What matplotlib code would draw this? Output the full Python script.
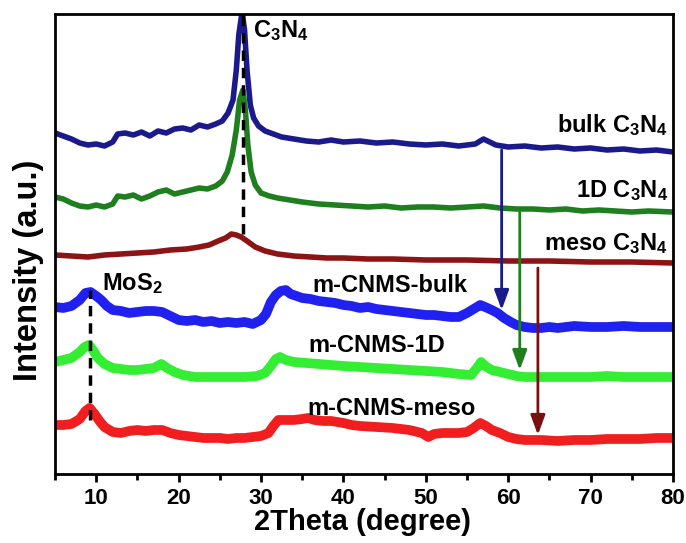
import numpy as np
import matplotlib
matplotlib.use("Agg")
import matplotlib.pyplot as plt

plt.rcParams['font.family'] = ['Liberation Sans', 'DejaVu Sans']
plt.rcParams['font.weight'] = 'bold'
plt.rcParams['mathtext.fontset'] = 'custom'
plt.rcParams['mathtext.rm'] = 'Liberation Sans:bold'
plt.rcParams['mathtext.it'] = 'Liberation Sans:bold'
plt.rcParams['mathtext.bf'] = 'Liberation Sans:bold'
plt.rcParams['mathtext.default'] = 'rm'

# --- data (2theta in degree, intensity in a.u.) ---
x_bulk = [5, 6, 7, 8, 9, 10, 11, 12, 12.6, 13.5, 14.5, 15.5, 16.5, 17.5, 18.5, 19.5, 20.5, 21.5,
          22.5, 23.5, 24.5, 25.3, 26, 26.6, 27.0, 27.3, 27.7, 28.0, 28.3, 28.7, 29.1, 29.7, 30.5,
          31.5, 32.5, 34, 35.5, 37, 38.5, 40, 42, 44, 46, 48, 50, 52, 54, 56, 57, 57.5, 58.5, 60,
          62, 64, 66, 68, 70, 72, 74, 76, 78, 80]
y_bulk = [341, 338, 335, 331, 329, 330, 328, 332, 340, 341, 339, 342, 338, 343, 341, 345, 346, 344,
          349, 347, 350, 353, 361, 374, 404, 439, 462, 444, 404, 369, 356, 348, 343,
          340, 337, 335, 333, 332, 334, 332, 333, 331, 332, 330, 329, 330, 328, 330, 335, 333, 329, 327,
          328, 326, 327, 325, 326, 324, 325, 323, 324, 322]

x_1d = [5, 6, 7, 8, 9, 10, 11, 12, 12.6, 13.5, 14.5, 15.5, 16.5, 17.5, 18.5, 19.5, 20.5, 21.5,
        22.5, 23.5, 24.5, 25.3, 25.9, 26.5, 27.0, 27.4, 27.8, 28.1, 28.4, 28.8, 29.3, 30, 31, 32,
        33.5, 35, 37, 39, 41, 43, 45, 47, 49, 51, 53, 55, 57, 59, 61, 63, 65, 67, 69, 71, 73, 75,
        77, 80]
y_1d = [277, 275, 271, 268, 267, 269, 267, 270, 278, 277, 279, 275, 278, 282, 284, 280, 282, 284,
        286, 285, 288, 293, 302, 319, 344, 374, 384, 364, 329, 302, 289, 281, 278, 276,
        274, 272, 270, 269, 268, 267, 268, 266, 267, 267, 266, 267, 268, 266, 265, 265, 264, 265,
        263, 264, 263, 262, 263, 262]

x_meso = [5, 7, 9, 11, 13, 15, 17, 19, 21, 22.5, 23.7, 24.8, 25.7, 26.4, 27, 27.6, 28.3, 29.3,
          30.5, 32, 34, 36, 38, 40, 43, 46, 50, 55, 60, 65, 70, 75, 80]
y_meso = [219, 218, 217, 219, 220, 221, 222, 224, 225, 227, 229, 233, 236, 240, 239, 237, 233, 227,
          223, 220, 218, 217, 216, 216, 215, 215, 214, 214, 213, 213, 212, 212, 211]

x_mbulk = [5, 6, 7, 8, 8.7, 9.3, 10, 10.6, 11.3, 12, 13, 14, 15, 16, 17, 18, 19, 20, 21, 22, 23,
           24, 25, 26, 27, 28, 29, 30, 30.6, 31.2, 31.8, 32.4, 33, 33.6, 34.3, 35, 36, 37, 38, 39,
           40, 41, 42, 43, 44, 45, 46, 47, 48, 49, 50, 51, 52, 53, 54, 55, 56, 56.6, 57.2, 58,
           58.7, 59.5, 60.3, 61, 62, 63, 64, 65, 66, 67, 68, 70, 72, 74, 76, 78, 80]
y_mbulk = [167, 166, 168, 174, 181, 182, 178, 174, 168, 164, 163, 161, 162, 163, 163, 162, 158, 154,
           153, 154, 152, 153, 151, 152, 151, 152, 150, 154, 160, 172, 179, 183, 184, 180, 178,
           176, 175, 173, 172, 171, 169, 168, 166, 167, 165, 164, 163, 162, 161, 160, 159, 159,
           158, 157, 157, 161, 166, 169, 167, 164, 161, 156, 152, 149, 147, 146, 146, 147, 146,
           147, 148, 147, 147, 148, 147, 147, 147]

x_m1d = [5, 6, 7, 8, 8.6, 9.1, 9.6, 10.2, 11, 12, 13, 14, 15, 16, 17, 17.9, 18.6, 19.5, 20.5, 22,
         24, 26, 28, 29.5, 30.5, 31.2, 31.8, 32.3, 33, 34, 35.5, 37, 38.5, 40, 42, 44, 46, 48, 50,
         52, 54, 55.5, 56.2, 56.7, 57.2, 58, 59, 60, 61, 62, 64, 66, 68, 70, 72, 74, 76, 78, 80]
y_m1d = [112, 114, 116, 122, 127, 129, 124, 116, 110, 106, 105, 104, 104, 105, 106, 110, 106, 102,
         99, 97, 97, 97, 97, 98, 101, 108, 115, 117, 114, 112, 111, 110, 109, 108, 107, 106, 105,
         104, 103, 102, 100, 99, 106, 112, 108, 104, 102, 100, 98, 97, 97, 97, 97, 97, 98, 97, 97,
         97, 97]

x_mmeso = [5, 6, 7, 8, 8.7, 9.2, 9.8, 10.4, 11, 12, 13, 14, 15, 16, 17, 18, 19, 20, 21, 22, 23, 24,
           25, 26, 27, 28, 29, 30, 30.9, 31.5, 32.1, 33, 34, 35, 35.7, 36.5, 37.5, 38.5, 40, 41, 42,
           44, 46, 48, 49.5, 50.3, 51, 52, 53, 54, 55, 55.8, 56.6, 57.3, 58, 59, 60, 61, 62, 64,
           66, 68, 70, 72, 74, 76, 78, 80]
y_mmeso = [49, 49, 50, 55, 63, 66, 60, 53, 47, 42, 41, 43, 44, 43, 44, 44, 41, 39, 38, 37, 36, 36,
           36, 35, 36, 36, 37, 38, 41, 48, 54, 54, 54, 55, 56, 54, 53, 53, 51, 49, 48,
           47, 46, 44, 41, 37, 40, 41, 41, 41, 42, 46, 51, 48, 44, 41, 37, 35, 34, 34,
           33, 34, 34, 35, 35, 35, 36, 36]

c3n4_peak = 27.8
mos2_peak = 9.3

fig = plt.figure(figsize=(6.86, 5.43), dpi=100)
ax = fig.add_axes([0.0802, 0.1271, 0.9009, 0.8471])

ax.plot(x_bulk, y_bulk, color='#1a1a8c', lw=4, solid_joinstyle='round')
ax.plot(x_1d, y_1d, color='#1f7f1f', lw=4, solid_joinstyle='round')
ax.plot(x_meso, y_meso, color='#8c1414', lw=4, solid_joinstyle='round')
ax.plot(x_mbulk, y_mbulk, color='#2020f0', lw=7, solid_joinstyle='round')
ax.plot(x_m1d, y_m1d, color='#33ee33', lw=7, solid_joinstyle='round')
ax.plot(x_mmeso, y_mmeso, color='#f01e1e', lw=7, solid_joinstyle='round')

# dashed guide lines
ax.plot([c3n4_peak, c3n4_peak], [240, 460], color='black', lw=2.5, ls=(0, (3, 2)))
ax.plot([mos2_peak, mos2_peak], [54, 184], color='black', lw=2.5, ls=(0, (3, 2)))

# shift arrows
arrows = [(59.2, 324, 164, '#1a1a8c'), (61.4, 262, 104, '#1f7f1f'), (63.6, 206, 39, '#7a1010')]
for xa, y0, y1, c in arrows:
    ax.annotate('', xy=(xa, y1), xytext=(xa, y0),
                arrowprops=dict(arrowstyle='-|>,head_width=0.22,head_length=0.6',
                                mutation_scale=20, lw=2, color=c, shrinkA=0, shrinkB=0))

fs = 17
ax.text(29.0, 437, 'C$_3$N$_4$', fontsize=fs, fontweight='bold', ha='left', va='baseline')
ax.text(79.4, 342, 'bulk C$_3$N$_4$', fontsize=fs, fontweight='bold', ha='right', va='baseline')
ax.text(79.4, 277, '1D C$_3$N$_4$', fontsize=fs, fontweight='bold', ha='right', va='baseline')
ax.text(79.4, 224, 'meso C$_3$N$_4$', fontsize=fs, fontweight='bold', ha='right', va='baseline')
ax.text(10.7, 184, 'MoS$_2$', fontsize=fs, fontweight='bold', ha='left', va='baseline')
ax.text(36.2, 182, 'm-CNMS-bulk', fontsize=fs, fontweight='bold', ha='left', va='baseline')
ax.text(35.7, 122, 'm-CNMS-1D', fontsize=fs, fontweight='bold', ha='left', va='baseline')
ax.text(35.6, 59, 'm-CNMS-meso', fontsize=fs, fontweight='bold', ha='left', va='baseline')

ax.set_xlim(5, 80)
ax.set_ylim(0, 460)
ax.set_xticks([10, 20, 30, 40, 50, 60, 70, 80])
ax.set_xticks([5, 15, 25, 35, 45, 55, 65, 75], minor=True)
ax.set_yticks([])
ax.tick_params(axis='x', which='major', direction='out', length=6, width=2, labelsize=16, pad=4)
ax.tick_params(axis='x', which='minor', direction='out', length=4, width=2)
for lab in ax.get_xticklabels():
    lab.set_fontweight('bold')
for s in ax.spines.values():
    s.set_linewidth(2)

ax.set_xlabel('2Theta (degree)', fontsize=21, fontweight='bold')
ax.set_ylabel('Intensity (a.u.)', fontsize=23.5, fontweight='bold')
ax.xaxis.set_label_coords(0.497, -0.075)
ax.yaxis.set_label_coords(-0.018, 0.443)

fig.savefig('out.png', dpi=100)
